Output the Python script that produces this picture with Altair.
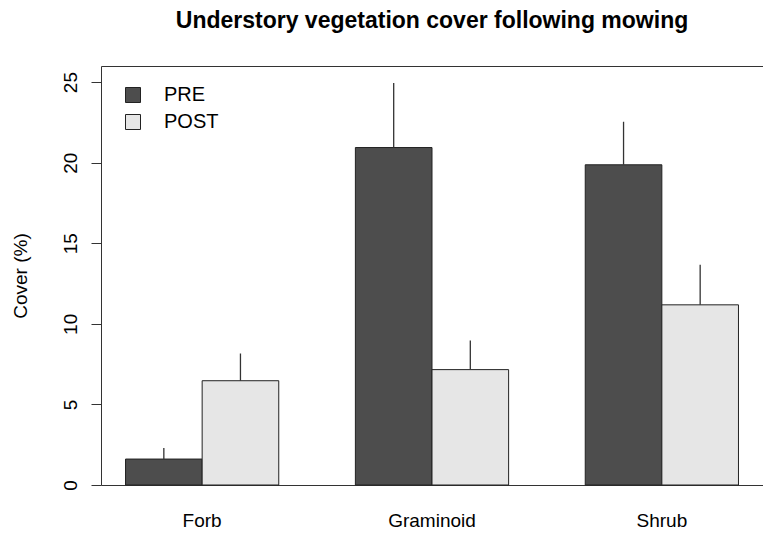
import altair as alt
import pandas as pd

categories = ["Forb", "Graminoid", "Shrub"]
periods = ["PRE", "POST"]
pre_cover = [1.61, 20.94, 19.87]
pre_se = [0.69, 4.00, 2.67]
post_cover = [6.47, 7.16, 11.18]
post_se = [1.69, 1.80, 2.48]
colors = ["#4D4D4D", "#E6E6E6"]
y_ticks = [0, 5, 10, 15, 20, 25]

rows = []
for i, c in enumerate(categories):
    rows.append({"category": c, "period": "PRE", "cover": pre_cover[i], "upper": pre_cover[i] + pre_se[i]})
    rows.append({"category": c, "period": "POST", "cover": post_cover[i], "upper": post_cover[i] + post_se[i]})
df = pd.DataFrame(rows)

FONT = "Liberation Sans"

base = alt.Chart(df).encode(
    x=alt.X(
        "category:N",
        sort=categories,
        scale=alt.Scale(paddingInner=1 / 3, paddingOuter=0.1067),
        axis=alt.Axis(
            title=None, domain=False, ticks=False, labelAngle=0,
            labelFontSize=19, labelFont=FONT, labelColor="black",
            labelPadding=26, labelBaseline="top",
        ),
    ),
    xOffset=alt.XOffset("period:N", sort=periods, scale=alt.Scale(paddingInner=0, paddingOuter=0)),
)

bars = base.mark_bar(stroke="#222222", strokeWidth=1).encode(
    y=alt.Y(
        "cover:Q",
        scale=alt.Scale(domain=[0, 26], nice=False, zero=True),
        axis=alt.Axis(
            values=y_ticks, title="Cover (%)", grid=False, domain=False,
            tickSize=10, tickColor="#333333", tickWidth=1,
            labelAngle=-90, labelAlign="center", labelBaseline="bottom",
            labelFontSize=19, labelFont=FONT, labelColor="black", labelPadding=11,
            titleFontSize=19, titleFont=FONT, titleFontWeight="normal", titleColor="black",
            titlePadding=31,
        ),
    ),
    color=alt.Color(
        "period:N",
        scale=alt.Scale(domain=periods, range=colors),
        legend=alt.Legend(
            title=None, orient="none", legendX=22, legendY=19,
            symbolType="square", symbolSize=225, symbolStrokeColor="#222222",
            symbolStrokeWidth=1, symbolOpacity=1,
            labelFontSize=20, labelFont=FONT, labelColor="black", labelOffset=21,
            rowPadding=7, padding=0,
        ),
    ),
)

errs = base.mark_rule(color="#333333", strokeWidth=1.3).encode(
    y="cover:Q",
    y2="upper:Q",
)

chart = (
    alt.layer(bars, errs)
    .properties(
        width=662,
        height=419,
        title=alt.TitleParams(
            "Understory vegetation cover following mowing",
            fontSize=23, font=FONT, fontWeight="bold", color="black",
            anchor="middle", offset=33,
        ),
        padding={"left": 93, "top": 58, "right": 0, "bottom": 48},
        autosize=alt.AutoSizeParams(type="none"),
    )
    .configure_view(stroke="#333333", strokeWidth=1)
)

chart.save("out.html", embed_options={"renderer": "svg", "actions": False})
